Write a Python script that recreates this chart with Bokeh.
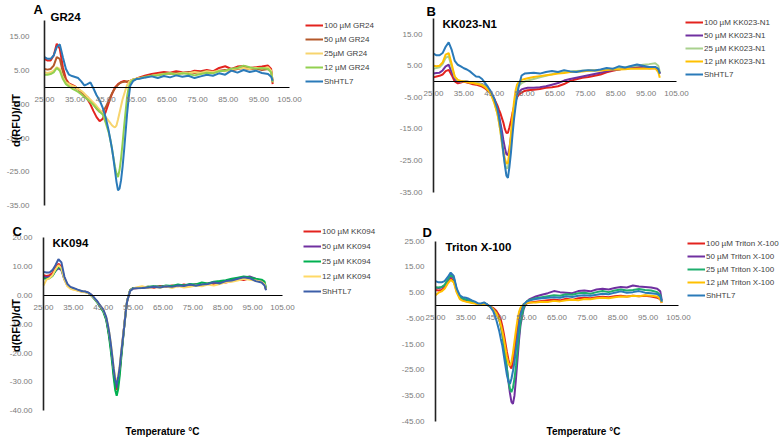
import math
from bokeh.plotting import figure
from bokeh.models import Legend, LegendItem, Label, FixedTicker, NumeralTickFormatter
from bokeh.layouts import column, row
from bokeh.embed import file_html
from bokeh.resources import INLINE

FONT = "Liberation Sans"

# ---------------- data ----------------
# temperature grid (°C)
T = ([25, 26, 27, 28, 29, 30, 31, 32, 33, 34, 35, 36, 37, 38, 39, 40, 41, 42, 43, 44, 45, 46]
     + [46.5, 47, 47.5, 48, 48.5, 49, 49.5, 50, 50.5, 51, 51.5, 52, 52.5, 53]
     + [54, 55, 56]
     + [58, 60, 62, 64, 66, 68, 70, 72, 74, 76, 78, 80, 82, 84, 86, 88, 90, 92, 94, 96, 98]
     + [99, 99.5])

X_TICKS = [25, 35, 45, 55, 65, 75, 85, 95, 105]

# ---- A : GR24
A_LABELS = ["100 µM GR24", "50 µM GR24", "25µM GR24", "12 µM GR24", "ShHTL7"]
A_100 = [8.5, 8.0, 8.0, 9.5, 13.0, 11.5, 6.0, 2.5, 1.2, 0.8, 0.3, -0.5, -1.3, -2.3, -3.5, -5.0, -7.0, -8.8, -10.0, -9.3, -7.2, -4.5,
         -3.2, -2.0, -1.0, 0.0, 0.5, 1.0, 1.3, 1.6, 1.8, 1.9, 1.8, 1.6, 1.7, 1.8,
         2.3, 2.6, 3.0,
         3.6, 4.0, 4.3, 4.6, 4.4, 4.8, 4.5, 4.4, 5.0, 4.8, 5.2, 4.8, 5.8, 6.3, 5.5, 6.2, 6.4, 5.8, 6.0, 6.2, 6.5,
         5.5, 1.0]
A_50 = [5.5, 5.3, 5.5, 6.5, 9.0, 8.5, 4.5, 2.0, 1.0, 0.5, 0.0, -0.5, -1.2, -2.0, -2.8, -3.8, -5.0, -6.3, -7.2, -7.3, -5.8, -3.8,
        -2.8, -1.8, -1.0, -0.3, 0.3, 0.8, 1.2, 1.5, 1.6, 1.7, 1.8, 1.8, 1.9, 2.0,
        2.4, 2.6, 2.8,
        3.2, 3.6, 3.8, 4.2, 4.0, 4.4, 4.2, 4.6, 4.3, 4.6, 4.8, 4.5, 5.0, 5.2, 5.0, 5.5, 5.8, 5.4, 5.6, 5.2, 5.5,
        5.0, 2.0]
A_25 = [4.5, 4.3, 4.5, 5.0, 6.0, 5.5, 3.0, 1.5, 1.0, 0.5, 0.2, -0.5, -1.0, -1.8, -2.8, -3.6, -4.5, -5.5, -6.6, -7.5, -8.8, -10.0,
        -10.6, -11.2, -11.6, -11.8, -11.3, -9.5, -7.5, -5.5, -3.5, -2.0, -0.5, 0.8, 1.5, 2.0,
        2.4, 2.6, 2.8,
        3.0, 3.5, 3.8, 4.0, 4.2, 4.0, 4.4, 4.2, 4.6, 4.3, 4.8, 4.6, 5.0, 4.8, 5.4, 5.6, 5.8, 5.5, 5.9, 5.6, 6.0,
        5.0, 2.0]
A_12 = [3.8, 3.8, 4.0, 4.5, 5.8, 5.0, 2.5, 1.0, 0.3, -0.3, -0.8, -1.3, -2.0, -2.8, -3.5, -4.3, -5.2, -6.2, -7.2, -8.0, -10.5, -13.5,
        -15.5, -18.0, -20.8, -23.5, -25.5, -26.6, -24.5, -21.0, -16.5, -11.5, -7.0, -2.5, 0.0, 1.5,
        2.3, 2.5, 2.7,
        3.2, 3.4, 3.6, 3.9, 4.2, 3.8, 4.2, 4.0, 3.6, 4.0, 4.4, 4.2, 4.8, 5.0, 5.6, 5.8, 6.5, 6.0, 5.6, 5.8, 5.5,
        4.5, 1.5]
A_SH = [9.0, 8.5, 8.5, 9.5, 12.0, 12.8, 9.0, 5.5, 3.8, 3.4, 3.1, 2.8, 1.8, 0.6, 1.0, 1.5, -0.3, -2.3, -3.8, -6.0, -9.0, -13.0,
        -15.5, -18.0, -21.0, -24.5, -28.0, -30.5, -30.0, -27.5, -23.5, -18.5, -13.0, -7.5, -3.0, 0.5,
        2.0, 2.5, 2.6,
        3.0, 3.3, 2.8, 3.4, 3.0, 3.6, 3.2, 3.5, 2.8, 3.3, 3.8, 3.5, 4.2, 3.8, 5.0, 4.4, 5.2, 4.6, 5.0, 4.3, 4.0,
        3.2, 2.0]

# ---- B : KK023-N1
B_LABELS = ["100 µM KK023-N1", "50 µM KK023-N1", "25 µM KK023-N1", "12 µM KK023-N1", "ShHTL7"]
B_100 = [1.3, 1.6, 1.8, 2.2, 3.3, 3.7, 2.0, 0.0, -0.6, -0.3, 0.0, -0.3, -0.6, -0.9, -1.0, -1.3, -1.6, -2.2, -3.0, -4.0, -5.5, -7.5,
         -8.8, -10.0, -11.5, -13.0, -15.0, -16.3, -16.2, -14.5, -12.5, -10.0, -8.0, -6.0, -5.0, -4.3,
         -3.5, -3.0, -2.8,
         -2.6, -2.4, -2.0, -1.8, -1.5, -0.8, 0.2, 0.7, 1.2, 1.4, 1.8, 2.2, 2.9, 3.4, 3.8, 4.2, 4.4, 4.6, 4.4, 4.2, 4.3,
         3.8, 2.5]
B_50 = [2.5, 2.7, 2.8, 3.5, 4.8, 5.3, 3.0, 0.8, 0.0, 0.0, 0.2, 0.0, -0.2, -0.4, -0.5, -0.6, -0.8, -1.3, -2.2, -3.5, -5.5, -8.5,
        -10.5, -13.0, -15.5, -18.5, -21.0, -23.0, -23.3, -21.0, -17.5, -13.5, -10.0, -6.5, -4.5, -3.5,
        -2.5, -2.2, -2.0,
        -2.0, -1.8, -1.5, -1.0, -0.5, 0.3, 0.8, 1.2, 1.6, 2.0, 2.4, 2.8, 3.2, 3.6, 3.8, 4.2, 4.5, 4.8, 4.6, 4.5, 4.4,
        4.0, 2.5]
B_25 = [4.0, 4.3, 4.5, 5.5, 7.5, 8.0, 4.5, 1.5, 0.3, 0.0, 0.2, 0.0, -0.2, -0.4, -0.5, -0.6, -0.9, -1.5, -2.5, -4.0, -6.5, -10.0,
        -12.5, -15.5, -19.5, -23.0, -26.0, -27.5, -27.3, -24.0, -19.5, -14.0, -9.5, -5.5, -3.0, -1.5,
        -0.5, 0.0, 0.3,
        0.8, 1.3, 1.8, 2.3, 2.8, 3.0, 3.2, 3.3, 3.4, 3.5, 3.5, 3.6, 3.8, 4.0, 4.3, 4.5, 4.8, 5.0, 5.3, 5.5, 5.8,
        5.0, 3.0]
B_12 = [5.0, 4.8, 5.0, 6.0, 8.5, 9.0, 5.5, 1.5, 0.5, 0.2, 0.0, -0.2, -0.4, -0.5, -0.7, -0.9, -1.2, -1.8, -2.8, -4.3, -6.8, -10.0,
        -12.5, -15.5, -19.0, -22.0, -24.5, -26.0, -25.8, -22.0, -16.5, -11.0, -6.5, -3.0, -1.0, -0.3,
        0.5, 0.8, 1.0,
        1.4, 1.7, 2.0, 2.2, 2.5, 2.7, 3.0, 3.1, 3.2, 3.4, 3.5, 3.5, 3.6, 3.8, 3.8, 3.9, 4.0, 4.0, 4.1, 4.0, 4.2,
        3.0, 1.2]
B_SH = [8.8, 8.3, 8.3, 9.0, 11.0, 12.4, 10.0, 6.5, 5.3, 4.8, 4.2, 3.8, 3.2, 2.4, 1.6, 1.5, 0.8, -0.5, -1.8, -3.3, -5.5, -8.5,
        -11.0, -14.0, -18.0, -22.5, -26.5, -29.8, -30.5, -27.0, -22.5, -17.0, -12.0, -8.0, -4.5, -1.8,
        1.9, 2.5, 2.6,
        2.8, 2.5, 3.0, 3.3, 3.0, 3.6, 3.2, 3.0, 3.4, 3.6, 3.5, 3.8, 4.3, 4.0, 4.8, 4.4, 4.9, 5.4, 5.0, 4.6, 4.6,
        4.0, 2.5]

# ---- C : KK094
C_LABELS = ["100 µM KK094", "50 µM KK094", "25 µM KK094", "12 µM KK094", "ShHTL7"]
C_100 = [7.0, 6.8, 7.0, 7.8, 9.5, 11.0, 10.0, 6.0, 3.8, 2.8, 2.4, 2.0, 1.7, 1.4, 1.3, 1.0, 0.2, -1.0, -2.2, -3.8, -5.2, -8.0,
         -10.8, -13.8, -17.5, -22.0, -27.0, -31.0, -32.8, -30.5, -26.5, -21.0, -16.0, -11.0, -6.0, -2.0,
         1.8, 2.6, 2.5,
         2.8, 3.0, 2.7, 3.3, 3.0, 3.5, 3.2, 3.8, 3.4, 3.9, 3.6, 4.2, 4.0, 4.8, 4.5, 5.0, 5.6, 5.4, 6.0, 5.5, 5.2,
         4.2, 2.0]
C_50 = [6.5, 6.3, 6.5, 7.0, 8.5, 9.5, 8.8, 5.5, 3.5, 2.6, 2.2, 1.9, 1.6, 1.3, 1.2, 0.9, 0.1, -1.0, -2.2, -3.8, -5.3, -8.2,
        -11.0, -14.0, -17.8, -22.2, -26.8, -30.5, -32.0, -30.0, -26.0, -20.5, -15.5, -10.5, -5.8, -1.8,
        1.8, 2.5, 2.6,
        2.7, 2.9, 3.1, 3.0, 3.3, 3.1, 3.4, 3.6, 3.3, 3.8, 3.5, 4.0, 4.6, 4.2, 5.0, 5.4, 5.6, 6.2, 6.6, 5.8, 5.0,
        4.0, 2.0]
C_25 = [6.0, 5.8, 6.0, 6.8, 8.5, 10.0, 9.2, 5.8, 3.6, 2.7, 2.3, 2.0, 1.7, 1.4, 1.2, 0.9, 0.0, -1.2, -2.5, -4.0, -5.6, -8.6,
        -11.5, -14.8, -19.0, -23.5, -28.5, -32.8, -34.8, -32.5, -28.0, -22.0, -16.5, -11.0, -6.0, -1.8,
        1.9, 2.6, 2.6,
        2.8, 3.0, 3.2, 3.0, 3.5, 3.3, 3.8, 3.5, 4.0, 3.8, 4.5, 4.2, 4.8, 5.0, 5.3, 5.8, 6.2, 6.6, 6.3, 5.8, 5.5,
        4.8, 2.5]
C_12 = [3.5, 5.5, 6.0, 7.0, 9.0, 10.5, 9.5, 5.5, 3.2, 2.4, 2.0, 1.8, 1.5, 1.2, 1.1, 0.8, 0.0, -1.0, -2.2, -3.6, -5.0, -7.6,
        -10.0, -12.8, -16.3, -20.5, -25.0, -28.5, -30.0, -28.0, -24.5, -19.5, -15.0, -10.5, -5.8, -1.8,
        1.8, 2.4, 2.8,
        3.2, 2.6, 3.0, 2.7, 3.2, 2.6, 3.3, 2.8, 3.0, 3.5, 3.2, 3.8, 3.5, 4.0, 4.6, 4.8, 5.2, 5.8, 5.5, 5.2, 4.8,
        4.0, 2.0]
C_SH = [8.2, 8.0, 8.0, 8.8, 10.5, 12.6, 11.5, 6.5, 4.0, 3.0, 2.6, 2.2, 1.8, 1.5, 1.4, 1.0, 0.3, -0.8, -2.0, -3.5, -4.8, -7.5,
        -10.0, -12.8, -16.5, -21.0, -25.5, -29.5, -30.8, -28.5, -25.0, -20.0, -15.5, -11.0, -6.0, -2.0,
        1.6, 2.4, 2.5,
        2.6, 2.8, 3.0, 2.8, 3.2, 3.0, 3.5, 3.3, 3.8, 3.4, 3.8, 4.0, 4.6, 4.2, 5.0, 5.2, 5.8, 6.3, 6.0, 5.0, 4.5,
        3.5, 1.8]

# ---- D : Triton X-100
D_LABELS = ["100 µM Triton X-100", "50 µM Triton X-100", "25 µM Triton X-100", "12 µM Triton X-100", "ShHTL7"]
D_100 = [6.0, 5.8, 6.0, 7.0, 9.0, 10.5, 9.5, 5.5, 3.0, 2.2, 1.8, 1.5, 1.2, 1.0, 0.6, 0.5, 0.9, 0.3, -0.3, -1.0, -2.0, -4.0,
         -5.5, -8.0, -11.0, -14.5, -18.0, -21.0, -23.5, -24.5, -22.0, -18.0, -13.0, -8.5, -5.0, -2.5,
         0.0, 0.8, 1.2,
         1.5, 1.8, 2.0, 2.2, 2.0, 2.6, 2.2, 2.8, 3.0, 2.8, 3.2, 3.4, 3.2, 3.6, 3.8, 3.5, 3.8, 3.6, 3.8, 3.5, 3.0,
         2.5, 1.0]
D_50 = [7.0, 6.8, 7.0, 7.8, 9.5, 11.5, 10.5, 6.0, 3.3, 2.5, 2.2, 1.8, 1.4, 1.1, 0.6, 0.5, 0.9, 0.3, -0.5, -1.5, -3.0, -5.5,
        -8.0, -11.0, -15.0, -19.5, -24.5, -29.5, -34.0, -37.5, -38.3, -35.0, -28.5, -21.0, -13.5, -7.5,
        -1.5, 1.5, 2.5,
        3.5, 4.2, 4.8, 5.6, 5.2, 5.0, 4.8, 5.6, 5.8, 5.5, 6.2, 6.5, 6.2, 6.8, 7.2, 7.0, 7.8, 7.4, 7.2, 7.0, 6.5,
        5.5, 2.0]
D_25 = [7.0, 7.0, 7.2, 8.0, 10.0, 12.0, 10.8, 6.0, 3.5, 2.6, 2.3, 2.0, 1.5, 1.2, 0.7, 0.5, 1.0, 0.4, -0.4, -1.5, -3.0, -5.5,
        -8.0, -11.0, -15.0, -19.5, -24.5, -29.0, -32.5, -33.7, -32.0, -28.5, -23.5, -17.5, -11.5, -6.5,
        -0.8, 1.5, 2.2,
        2.8, 3.2, 3.6, 4.0, 3.8, 4.4, 4.2, 4.8, 5.0, 4.6, 5.2, 5.6, 5.2, 5.8, 6.2, 5.8, 6.0, 6.4, 6.0, 5.8, 5.2,
        4.0, 1.5]
D_12 = [4.0, 5.0, 5.5, 6.5, 8.5, 10.0, 9.0, 5.0, 2.5, 1.8, 1.5, 1.3, 1.0, 0.8, 0.5, 0.5, 0.8, 0.2, -0.5, -1.5, -3.0, -5.5,
        -7.5, -10.0, -13.0, -16.5, -20.0, -22.5, -23.5, -22.0, -18.5, -14.0, -9.5, -5.5, -2.5, -0.8,
        0.5, 1.0, 1.2,
        1.2, 1.5, 1.4, 1.8, 1.6, 2.0, 2.2, 2.0, 2.5, 2.4, 2.8, 3.0, 2.8, 3.2, 3.5, 3.4, 3.8, 3.6, 4.0, 3.8, 3.5,
        2.5, 1.0]
D_SH = [9.5, 9.0, 9.0, 9.5, 11.0, 12.8, 11.5, 6.5, 4.0, 3.2, 3.0, 2.6, 2.0, 1.5, 0.8, 0.8, 1.2, 0.4, -0.5, -2.2, -5.5, -10.0,
        -13.0, -15.6, -19.5, -23.3, -27.0, -29.5, -30.5, -28.5, -25.5, -22.0, -17.0, -12.5, -7.5, -3.5,
        0.5, 1.5, 2.0,
        2.5, 2.8, 3.0, 3.2, 3.0, 3.6, 3.3, 3.8, 4.0, 3.8, 4.2, 4.6, 4.4, 5.0, 5.5, 5.0, 5.2, 5.6, 5.0, 4.8, 4.5,
        3.5, 1.5]

for s in [A_100, A_50, A_25, A_12, A_SH, B_100, B_50, B_25, B_12, B_SH,
          C_100, C_50, C_25, C_12, C_SH, D_100, D_50, D_25, D_12, D_SH]:
    assert len(s) == len(T), len(s)

# ---------------- styling ----------------
TICK_COLOR = "#7a7a7a"
LEG_COLOR = "#404040"


def make_panel(geom, series, labels, colors, yticks, ybounds, letter, title, ylabel, xlabel):
    ox, oy, W, H = geom["ox"], geom["oy"], geom["W"], geom["H"]
    ppx = (geom["x105"] - geom["axis_x"]) / 80.0
    ppy = geom["ppy"]
    x0 = 25 - (geom["axis_x"] - ox) / ppx
    x1 = x0 + W / ppx
    y1 = (geom["zero_y"] - oy) / ppy
    y0 = y1 - H / ppy

    def dx(sx):
        return x0 + (sx - ox) / ppx

    def dy(sy):
        return y1 - (sy - oy) / ppy

    p = figure(width=W, height=H, x_range=(x0, x1), y_range=(y0, y1),
               output_backend="svg", toolbar_location=None, tools="",
               min_border=0, min_border_left=0, min_border_right=0,
               min_border_top=0, min_border_bottom=0)
    p.outline_line_color = None
    p.grid.visible = False
    p.background_fill_color = "white"
    p.border_fill_color = "white"

    # x axis crossing at 0
    xa = p.xaxis[0]
    xa.fixed_location = 0
    xa.bounds = (25, 105)
    xa.ticker = FixedTicker(ticks=X_TICKS)
    xa.formatter = NumeralTickFormatter(format="0.00")
    xa.axis_line_color = "black"
    xa.axis_line_width = 1.2
    xa.major_tick_line_color = None
    xa.minor_tick_line_color = None
    xa.major_label_standoff = 3
    xa.major_label_text_font = FONT
    xa.major_label_text_font_size = "8px"
    xa.major_label_text_color = TICK_COLOR

    ya = p.yaxis[0]
    ya.fixed_location = 25
    ya.bounds = ybounds
    ya.ticker = FixedTicker(ticks=yticks)
    ya.formatter = NumeralTickFormatter(format="0.00")
    ya.axis_line_color = "#222222"
    ya.axis_line_width = 1.6
    ya.major_tick_line_color = None
    ya.minor_tick_line_color = None
    ya.major_label_standoff = geom["ystand"]
    ya.major_label_text_font = FONT
    ya.major_label_text_font_size = "8px"
    ya.major_label_text_color = TICK_COLOR

    rends = []
    for ys, c in zip(series, colors):
        r = p.line(T, ys, line_color=c, line_width=2)
        rends.append(r)

    # legend
    step = geom["leg_step"]
    sp = step - 10
    leg_h = 5 * 10 + 4 * sp
    top = geom["leg_y"] - 5
    lx = geom["leg_x"] - ox
    ly = H - (top - oy) - leg_h
    leg = Legend(items=[LegendItem(label=l, renderers=[r]) for l, r in zip(labels, rends)],
                 location=(lx, ly), orientation="vertical",
                 padding=0, margin=0, spacing=sp,
                 glyph_width=18, glyph_height=10, label_height=10, label_standoff=1,
                 label_text_font=FONT, label_text_font_size="8px",
                 label_text_color=LEG_COLOR,
                 border_line_color=None, background_fill_alpha=0)
    p.add_layout(leg, "center")

    # letter
    p.add_layout(Label(x=dx(geom["letter"][0]), y=dy(geom["letter"][1]), text=letter,
                       text_font=FONT, text_font_style="bold", text_font_size="13px",
                       text_color="black", text_align="left", text_baseline="top"))
    # title
    p.add_layout(Label(x=dx(geom["title"][0]), y=dy(geom["title"][1]), text=title,
                       text_font=FONT, text_font_style="bold", text_font_size="11.5px",
                       text_color="black", text_align="left", text_baseline="middle"))
    if ylabel:
        p.add_layout(Label(x=dx(geom["ylab"][0]), y=dy(geom["ylab"][1]), text="d(RFU)/dT",
                           angle=math.pi / 2,
                           text_font=FONT, text_font_style="bold", text_font_size="11px",
                           text_color="black", text_align="center", text_baseline="middle"))
    if xlabel:
        p.add_layout(Label(x=dx(geom["xlab"][0]), y=dy(geom["xlab"][1]), text="Temperature °C",
                           text_font=FONT, text_font_style="bold", text_font_size="10px",
                           text_color="black", text_align="center", text_baseline="middle"))
    return p


GA = dict(ox=0, oy=0, W=390, H=220, axis_x=44, x105=289, zero_y=87, ppy=3.37, ystand=9,
          leg_x=305, leg_y=25, leg_step=14, letter=(33, 1), title=(50, 16), ylab=(15, 120))
GB = dict(ox=390, oy=0, W=390, H=220, axis_x=433, x105=676, zero_y=81, ppy=3.16, ystand=5,
          leg_x=685, leg_y=22, leg_step=13, letter=(426, 3), title=(442, 23))
GC = dict(ox=0, oy=220, W=390, H=223, axis_x=43, x105=282, zero_y=295, ppy=2.88, ystand=5,
          leg_x=303, leg_y=231, leg_step=15, letter=(12, 223), title=(52, 242), ylab=(15, 325),
          xlab=(162, 431))
GD = dict(ox=390, oy=220, W=390, H=223, axis_x=435, x105=678, zero_y=305, ppy=2.57, ystand=5,
          leg_x=687, leg_y=243, leg_step=13, letter=(422, 224), title=(445, 246.5),
          xlab=(583, 431))

pA = make_panel(GA, [A_100, A_50, A_25, A_12, A_SH], A_LABELS,
                ["#e3231e", "#b4582a", "#f7d46e", "#92d050", "#2a7ab9"],
                [-35, -25, -15, -5, 5, 15], (-35, 20), "A", "GR24", True, False)
pB = make_panel(GB, [B_100, B_50, B_25, B_12, B_SH], B_LABELS,
                ["#e3231e", "#7030a0", "#a9d18e", "#ffc000", "#2a7ab9"],
                [-35, -25, -15, -5, 5, 15], (-35, 20), "B", "KK023-N1", False, False)
pC = make_panel(GC, [C_100, C_50, C_25, C_12, C_SH], C_LABELS,
                ["#e3231e", "#7030a0", "#00b050", "#ffd966", "#3c5ea8"],
                [-40, -30, -20, -10, 0, 10, 20], (-40, 20), "C", "KK094", True, True)
pD = make_panel(GD, [D_100, D_50, D_25, D_12, D_SH], D_LABELS,
                ["#e3231e", "#7030a0", "#1fae6e", "#ffc000", "#2a7ab9"],
                [-45, -35, -25, -15, -5, 5, 15, 25], (-45, 25), "D", "Triton X-100", False, True)

layout = column(row(pA, pB), row(pC, pD))
open("out.html", "w").write(file_html(layout, INLINE))
